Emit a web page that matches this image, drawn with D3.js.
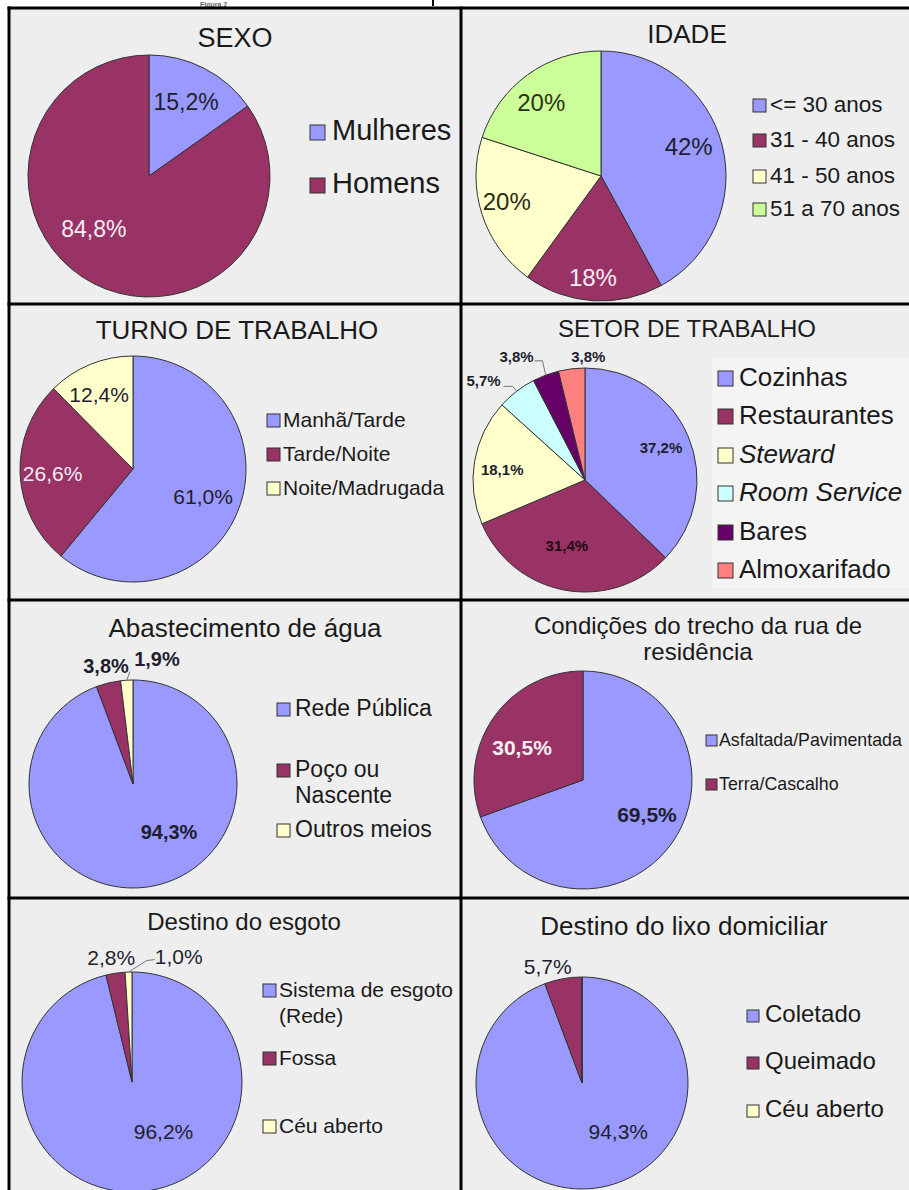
<html>
<head>
    <meta charset="utf-8">
    <script src="https://d3js.org/d3.v7.min.js"></script>
    <style>
        body { margin: 0; background: #fff; }
        text { font-family: "Liberation Sans", Arial, sans-serif; }
    </style>
</head>
<body>
    <svg id="chart" width="909" height="1190"></svg>
    <script>
        // ---- data ----
        var sexoCats = ["Mulheres", "Homens"];
        var sexoVals = [15.2, 84.8];

        var idadeCats = ["<= 30 anos", "31 - 40 anos", "41 - 50 anos", "51 a 70 anos"];
        var idadeVals = [42, 18, 20, 20];

        var turnoCats = ["Manhã/Tarde", "Tarde/Noite", "Noite/Madrugada"];
        var turnoVals = [61.0, 26.6, 12.4];

        var setorCats = ["Cozinhas", "Restaurantes", "Steward", "Room Service", "Bares", "Almoxarifado"];
        var setorVals = [37.2, 31.4, 18.1, 5.7, 3.8, 3.8];

        var aguaCats = ["Rede Pública", "Poço ou\nNascente", "Outros meios"];
        var aguaVals = [94.3, 3.8, 1.9];

        var ruaCats = ["Asfaltada/Pavimentada", "Terra/Cascalho"];
        var ruaVals = [69.5, 30.5];

        var esgotoCats = ["Sistema de esgoto\n(Rede)", "Fossa", "Céu aberto"];
        var esgotoVals = [96.2, 2.8, 1.0];

        var lixoCats = ["Coletado", "Queimado", "Céu aberto"];
        var lixoVals = [94.3, 5.7, 0];

        var ptBR = d3.formatLocale({ decimal: ",", thousands: ".", grouping: [3], currency: ["R$", ""] });
        var f1 = function (v) { return ptBR.format(".1f")(v) + "%"; };
        var f0 = function (v) { return ptBR.format(".0f")(v) + "%"; };

        var blue = "#9999ff", wine = "#993366", cream = "#ffffcc", cyan = "#ccffff",
            plum = "#660066", salmon = "#ff8080", lime = "#ccff99";
        var dark = "#1e1e2e", light = "#f7eef3";

        // ---- layout of the 8 panels ----
        var panels = [
            { title: ["SEXO"], tx: 235, ty: [47], tsize: 27,
              cats: sexoCats, vals: sexoVals, fmt: f1, colors: [blue, wine],
              cx: 149, cy: 176, r: 121, lsize: 23, bold: false, lfill: [dark, light],
              nudge: [[1, -4], [-19, -17]],
              legX: 310, legY: [140, 193], legSize: 29, sq: 15, gap: 7 },
            { title: ["IDADE"], tx: 687, ty: [43], tsize: 26,
              cats: idadeCats, vals: idadeVals, fmt: f0, colors: [blue, wine, cream, lime],
              cx: 601, cy: 176, r: 125, lsize: 24, bold: false, lfill: [dark, light, "#2b2b10", "#2b3310"],
              nudge: [[9, -9], [-3, 21], [-17, 0], [-12, -8]],
              legX: 753, legY: [112, 147, 183, 216], legSize: 22.5, sq: 13, gap: 4 },
            { title: ["TURNO DE TRABALHO"], tx: 237, ty: [339], tsize: 26,
              cats: turnoCats, vals: turnoVals, fmt: f1, colors: [blue, wine, cream],
              cx: 133, cy: 469, r: 113, lsize: 21, bold: false, lfill: [dark, light, dark],
              nudge: [[1, 3], [-7, 1], [-6, -6]],
              legX: 267, legY: [427, 461, 495], legSize: 21, sq: 13, gap: 3 },
            { title: ["SETOR DE TRABALHO"], tx: 687, ty: [337], tsize: 24,
              cats: setorCats, vals: setorVals, fmt: f1, colors: [blue, wine, cream, cyan, plum, salmon],
              cx: 585, cy: 480, r: 112, lsize: 15, bold: true, lfill: [dark, "#220a14", dark, dark, dark, dark],
              nudge: [[9, -4], [-5, -6], [-11, 2], [-57, -42], [-43, -55], [12, -51]],
              leaders: { 3: [[29, 6], [20, 6]], 4: [[26, 4], [18, 4]] },
              italic: [2, 3], legBox: [712, 358, 200, 230],
              legX: 718, legY: [386, 424, 463, 501, 540, 578], legSize: 26, sq: 15, gap: 6 },
            { title: ["Abastecimento de água"], tx: 245, ty: [637], tsize: 26,
              cats: aguaCats, vals: aguaVals, fmt: f1, colors: [blue, wine, cream],
              cx: 133, cy: 784, r: 104, lsize: 20, bold: true, lfill: [dark, dark, dark],
              nudge: [[24, -19], [-11, -52], [28, -58]],
              leaders: { 2: [[-27, 13], [-27, 13]] },
              legX: 277, legY: [716, 777, 837], legSize: 23, sq: 13, gap: 5 },
            { title: ["Condições do trecho da rua de", "residência"], tx: 698, ty: [634, 660], tsize: 24,
              cats: ruaCats, vals: ruaVals, fmt: f1, colors: [blue, wine],
              cx: 583, cy: 780, r: 109, lsize: 21, bold: true, lfill: [dark, light],
              nudge: [[6, -6], [-3, 8]],
              legX: 706, legY: [746, 790], legSize: 17.8, sq: 11, gap: 2 },
            { title: ["Destino do esgoto"], tx: 244, ty: [930], tsize: 24,
              cats: esgotoCats, vals: esgotoVals, fmt: f1, colors: [blue, wine, cream],
              cx: 132, cy: 1082, r: 110, lsize: 21, bold: false, lfill: [dark, dark, dark],
              nudge: [[23, -21], [-10, -54], [49, -54]],
              leaders: { 2: [[-32, 4], [-24, 3]] },
              legX: 263, legY: [997, 1065, 1133], legSize: 21, sq: 13, gap: 3 },
            { title: ["Destino do lixo domiciliar"], tx: 684, ty: [935], tsize: 26,
              cats: lixoCats, vals: lixoVals, fmt: f1, colors: [blue, wine, cream],
              cx: 582, cy: 1083, r: 106, lsize: 21, bold: false, lfill: [dark, dark, dark],
              nudge: [[24, -19], [-22, -49], [0, 0]],
              legX: 747, legY: [1022, 1069, 1117], legSize: 24, sq: 12, gap: 6 }
        ];

        var svg = d3.select("#chart");

        // small caption in the white strip above the grid
        svg.append("text").attr("x", 200).attr("y", 6.5)
            .style("font-size", "7px").style("font-weight", "bold").attr("fill", "#666")
            .text("Figura 2");
        svg.append("line").attr("x1", 433).attr("x2", 433).attr("y1", 0).attr("y2", 6)
            .attr("stroke", "#000").attr("stroke-width", 2);

        // grid of panels
        var gx = [9, 461, 912], gy = [8, 304, 600, 898, 1192];
        for (var row = 0; row < 4; row++) {
            for (var col = 0; col < 2; col++) {
                svg.append("rect")
                    .attr("x", gx[col]).attr("y", gy[row])
                    .attr("width", gx[col + 1] - gx[col]).attr("height", gy[row + 1] - gy[row])
                    .attr("fill", "#eeeeee");
            }
        }

        var pie = d3.pie().sort(null).value(function (d) { return d; });

        panels.forEach(function (p) {
            var g = svg.append("g");

            // title
            var title = g.append("text")
                .attr("x", p.tx)
                .style("font-size", p.tsize + "px")
                .attr("fill", "#1a1a1a")
                .style("text-anchor", "middle");
            p.title.forEach(function (line, i) {
                title.append("tspan").attr("x", p.tx).attr("y", p.ty[i]).text(line);
            });

            // legend
            if (p.legBox) {
                g.append("rect")
                    .attr("x", p.legBox[0]).attr("y", p.legBox[1])
                    .attr("width", p.legBox[2]).attr("height", p.legBox[3])
                    .attr("fill", "#f4f4f4");
            }
            p.cats.forEach(function (c, i) {
                var by = p.legY[i];
                g.append("rect")
                    .attr("x", p.legX).attr("y", by - p.sq)
                    .attr("width", p.sq).attr("height", p.sq)
                    .attr("fill", p.colors[i])
                    .attr("stroke", "#333").attr("stroke-width", 1);
                var t = g.append("text")
                    .attr("x", p.legX + p.sq + p.gap).attr("y", by)
                    .style("font-size", p.legSize + "px")
                    .style("font-style", p.italic && p.italic.indexOf(i) >= 0 ? "italic" : "normal")
                    .attr("fill", "#1a1a1a");
                c.split("\n").forEach(function (line, k) {
                    t.append("tspan")
                        .attr("x", p.legX + p.sq + p.gap)
                        .attr("y", by + k * 26)
                        .text(line);
                });
            });

            // pie
            var arcs = pie(p.vals);
            var arc = d3.arc().innerRadius(0).outerRadius(p.r);
            var labelArc = d3.arc().innerRadius(p.r * 0.65).outerRadius(p.r * 0.65);
            var edgeArc = d3.arc().innerRadius(p.r).outerRadius(p.r);

            var pg = g.append("g").attr("transform", "translate(" + p.cx + "," + p.cy + ")");

            pg.selectAll(".slice")
                .data(arcs)
                .enter().append("path")
                .attr("class", "slice")
                .attr("d", arc)
                .attr("fill", function (d, i) { return p.colors[i]; })
                .attr("stroke", "#333")
                .attr("stroke-width", 1)
                .attr("stroke-linejoin", "round");

            arcs.forEach(function (d, i) {
                if (d.value === 0) return;
                var c = labelArc.centroid(d);
                var lx = c[0] + p.nudge[i][0], ly = c[1] + p.nudge[i][1];

                if (p.leaders && p.leaders[i]) {
                    var e = edgeArc.centroid(d);
                    var L = p.leaders[i];
                    pg.append("polyline")
                        .attr("points", [e, [lx + L[0][0], ly + L[0][1]], [lx + L[1][0], ly + L[1][1]]]
                            .map(function (q) { return q.join(","); }).join(" "))
                        .attr("fill", "none")
                        .attr("stroke", "#777")
                        .attr("stroke-width", 1);
                }

                pg.append("text")
                    .attr("x", lx).attr("y", ly)
                    .attr("dy", "0.35em")
                    .style("text-anchor", "middle")
                    .style("font-size", p.lsize + "px")
                    .style("font-weight", p.bold ? "bold" : "normal")
                    .attr("fill", p.lfill[i])
                    .text(p.fmt(d.value));
            });
        });

        // grid lines on top
        gx.slice(0, 2).forEach(function (x) {
            svg.append("line").attr("x1", x).attr("x2", x).attr("y1", gy[0] - 1.5).attr("y2", 1190)
                .attr("stroke", "#000").attr("stroke-width", 3);
        });
        gy.slice(0, 4).forEach(function (y) {
            svg.append("line").attr("x1", gx[0] - 1.5).attr("x2", 909).attr("y1", y).attr("y2", y)
                .attr("stroke", "#000").attr("stroke-width", 3);
        });
    </script>
</body>
</html>
